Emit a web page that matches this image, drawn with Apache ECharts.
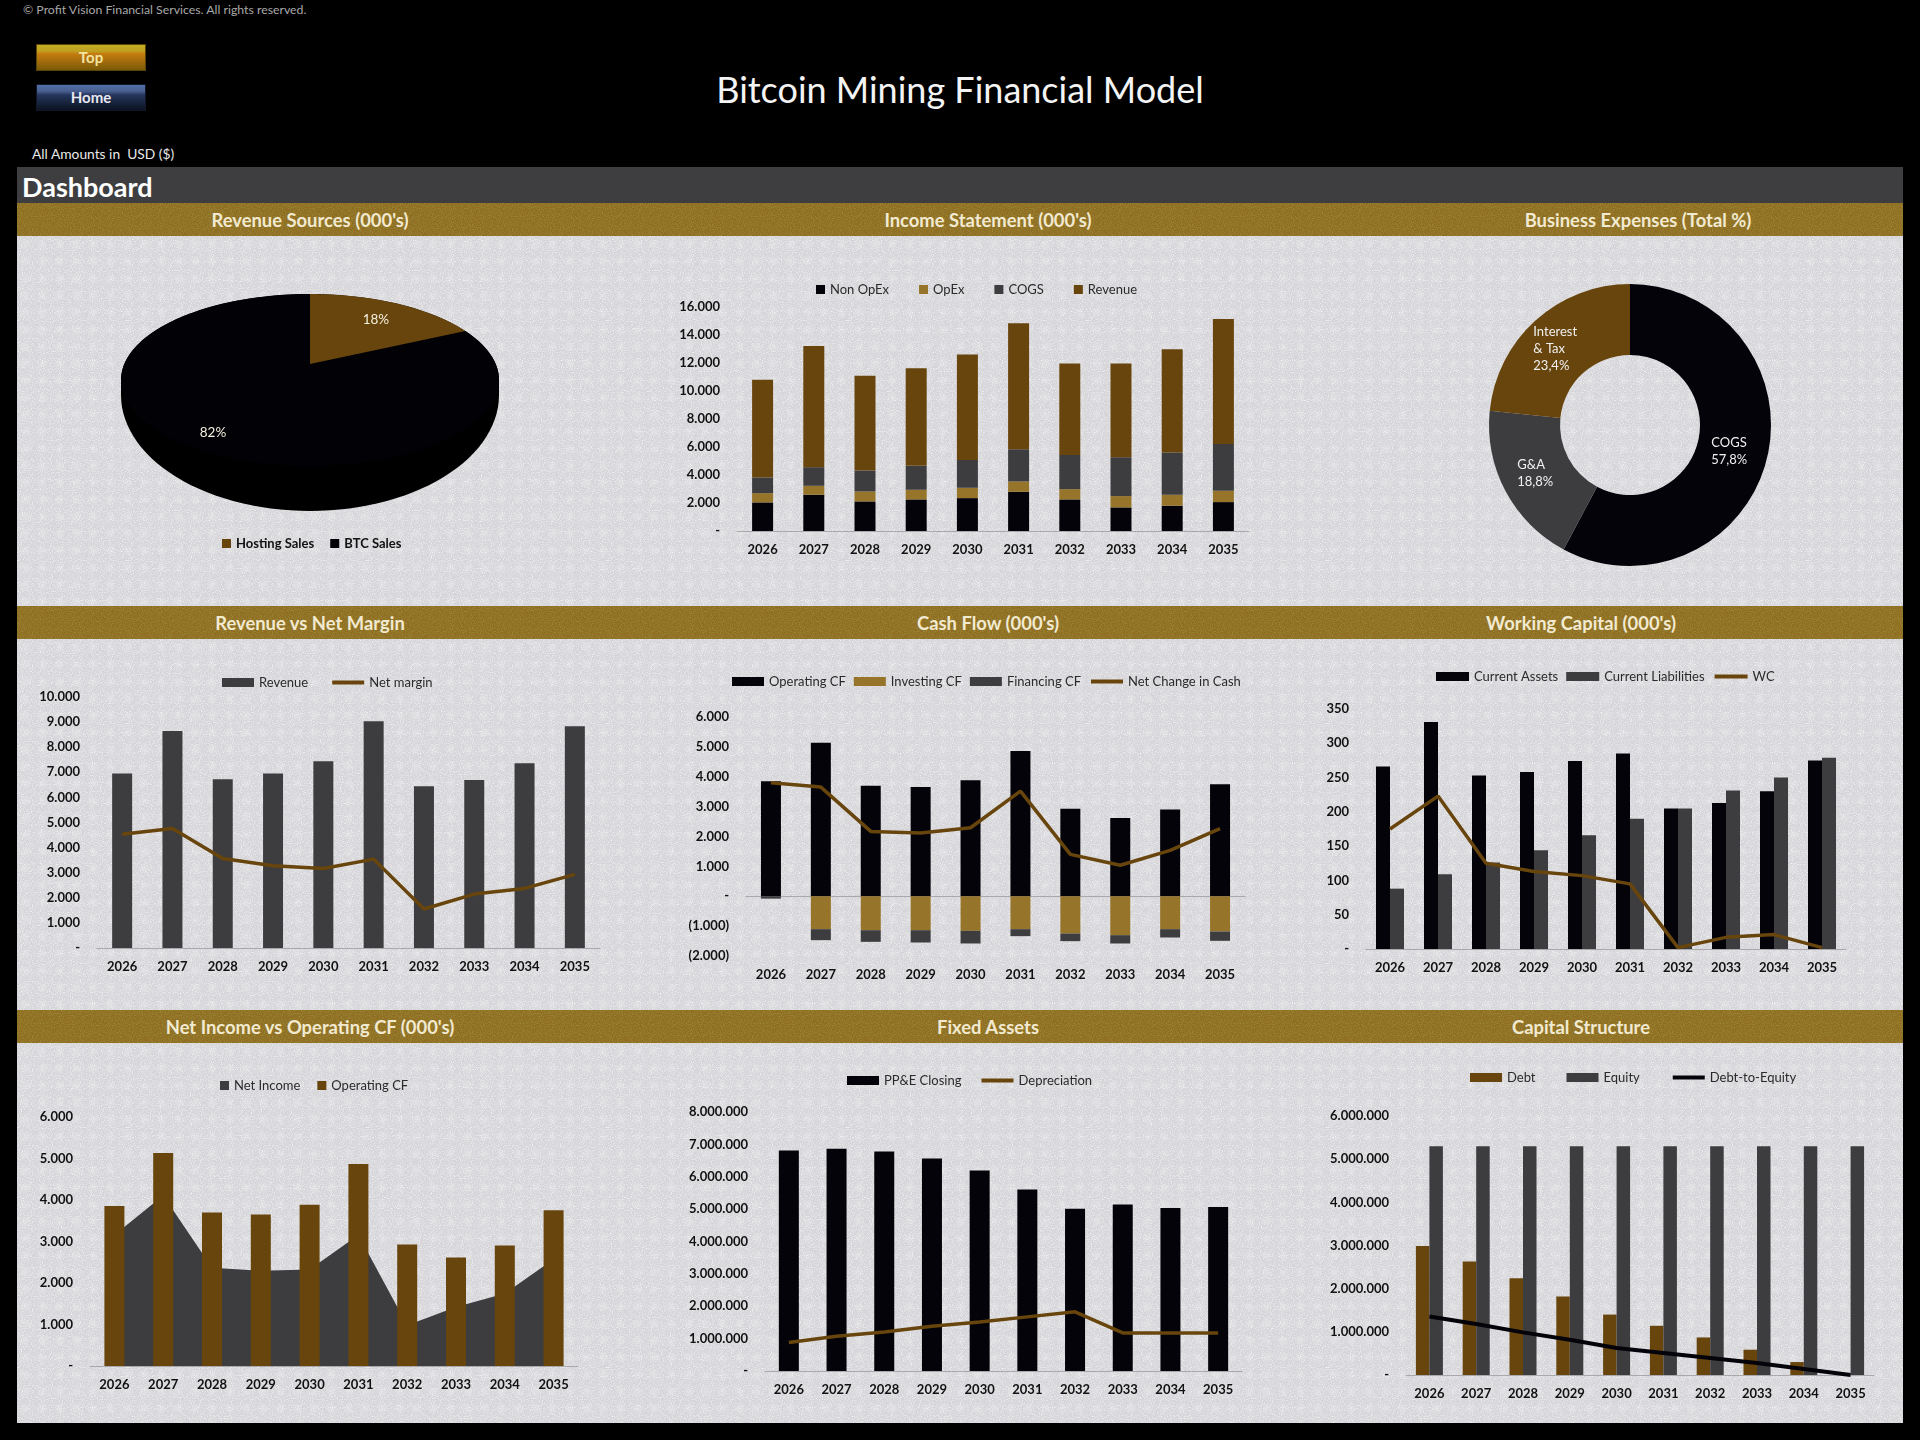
<!DOCTYPE html>
<html>
<head>
<meta charset="utf-8">
<title>Bitcoin Mining Financial Model</title>
<script src="https://cdn.jsdelivr.net/npm/echarts@6/dist/echarts.min.js"></script>
<style>
  html, body { margin: 0; padding: 0; background: #000; }
  #page { position: relative; width: 1920px; height: 1440px; background: #000; overflow: hidden; font-family: Lato, sans-serif; }
  .abs { position: absolute; white-space: nowrap; }
  .chart { position: absolute; left: 0; top: 0; width: 1920px; height: 1440px; }
  .panel { position: absolute; left: 17px; width: 1886px;
    background-color: #d6d6da;
    background-image:
      url("data:image/svg+xml,%3Csvg xmlns='http://www.w3.org/2000/svg' width='240' height='240'%3E%3Cfilter id='n'%3E%3CfeTurbulence type='fractalNoise' baseFrequency='0.9' numOctaves='1'/%3E%3CfeColorMatrix values='0 0 0 0 1 0 0 0 0 1 0 0 0 0 1 2.2 0 0 0 -1.05'/%3E%3C/filter%3E%3Crect width='240' height='240' filter='url(%23n)'/%3E%3C/svg%3E"),
      radial-gradient(circle, rgba(255,255,255,.2) 1px, rgba(255,255,255,0) 6px);
    background-size: 240px 240px, 17px 17px; }
  .band { position: absolute; left: 17px; width: 1886px; height: 33px;
    background-color: #8f6d22;
    background-image: url("data:image/svg+xml,%3Csvg xmlns='http://www.w3.org/2000/svg' width='240' height='240'%3E%3Cfilter id='n'%3E%3CfeTurbulence type='fractalNoise' baseFrequency='0.9' numOctaves='1'/%3E%3CfeColorMatrix values='0 0 0 0 0.35 0 0 0 0 0.3 0 0 0 0 0.05 2.2 0 0 0 -0.95'/%3E%3C/filter%3E%3Crect width='240' height='240' filter='url(%23n)'/%3E%3C/svg%3E"); }
  .bandTitle { position: absolute; transform: translateX(-50%); color: #f2ead0; font-size: 18.4px; font-weight: 700; line-height: 35px; white-space: nowrap; }
  .btn { position: absolute; left: 36px; width: 110px; height: 27px; text-align: center; font-size: 15px; font-weight: 700; line-height: 25px; box-sizing: border-box; }
  #top { top: 44px; color: #f4e3a0; background: linear-gradient(#c4ad24 0, #c0a020 25%, #c47c10 35%, #7a5a08 100%); border: 1px solid #5a4508; }
  #home { top: 84px; color: #e8e8f0; background: linear-gradient(#5070a8 0, #4a5f90 25%, #24365c 40%, #0c1220 100%); border: 1px solid #101828; }
</style>
</head>
<body>
<div id="page">
  <div class="abs" style="left:23px;top:2px;font-size:12.3px;color:#a8a8a8">© Profit Vision Financial Services. All rights reserved.</div>
  <div class="btn" id="top">Top</div>
  <div class="btn" id="home">Home</div>
  <div class="abs" style="left:0;width:1920px;top:67px;text-align:center;font-size:36px;color:#f4f4f4">Bitcoin Mining Financial Model</div>
  <div class="abs" style="left:32px;top:145px;font-size:13.8px;color:#e8e8e8">All Amounts in&nbsp; USD ($)</div>
  <div class="abs" style="left:17px;top:167px;width:1886px;height:36px;background:#3e3e40"></div>
  <div class="abs" style="left:22px;top:170px;font-size:27px;font-weight:700;color:#fff">Dashboard</div>
  <div id="bands"></div>
  <div class="chart" id="revenueSources"></div>
  <div class="chart" id="incomeStatement"></div>
  <div class="chart" id="businessExpenses"></div>
  <div class="chart" id="revenueMargin"></div>
  <div class="chart" id="cashFlow"></div>
  <div class="chart" id="workingCapital"></div>
  <div class="chart" id="netIncomeCf"></div>
  <div class="chart" id="fixedAssets"></div>
  <div class="chart" id="capitalStructure"></div>
</div>
<script>
const years = ['2026', '2027', '2028', '2029', '2030', '2031', '2032', '2033', '2034', '2035']

// band titles
const titlesRow1 = ["Revenue Sources (000's)", "Income Statement (000's)", 'Business Expenses (Total %)']
const titlesRow2 = ['Revenue vs Net Margin', "Cash Flow (000's)", "Working Capital (000's)"]
const titlesRow3 = ["Net Income vs Operating CF (000's)", 'Fixed Assets', 'Capital Structure']

// pie + donut
const revenueSourceNames = ['Hosting Sales', 'BTC Sales']
const revenueSourceShares = [18, 82]
const expenseNames = ['COGS', 'G&A', 'Interest\n& Tax']
const expenseShares = [57.8, 18.8, 23.4]

// income statement
const nonOpex = [2042, 2588, 2113, 2255, 2350, 2801, 2255, 1685, 1804, 2065]
const opex = [664, 640, 712, 689, 736, 736, 736, 808, 784, 807]
const cogs = [1116, 1330, 1495, 1709, 1994, 2303, 2445, 2777, 3014, 3348]
const revenueStacked = [6979, 8664, 6766, 6979, 7525, 8997, 6528, 6694, 7383, 8925]

// revenue vs net margin
const revenue = [6950, 8647, 6724, 6950, 7440, 9032, 6446, 6698, 7361, 8833]
const netMargin = [4536, 4761, 3568, 3276, 3170, 3541, 1552, 2149, 2374, 2931]

// cash flow
const operatingCf = [3853, 5134, 3697, 3653, 3886, 4866, 2929, 2617, 2906, 3753]
const investingCf = [0, -1102, -1136, -1136, -1158, -1102, -1247, -1303, -1102, -1180]
const financingCf = [-80, -368, -390, -412, -423, -234, -256, -278, -279, -312]
const netChangeCash = [3797, 3653, 2171, 2116, 2294, 3519, 1403, 1036, 1537, 2261]

// working capital
const currentAssets = [266, 331, 253, 258, 274, 285, 205, 213, 230, 275]
const currentLiabilities = [88, 109, 126, 144, 166, 190, 205, 231, 250, 279]
const workingCapital = [175, 223, 125, 113, 107, 95, 2, 17, 21, 2]

// net income
const netIncome = [3154, 4111, 2365, 2293, 2325, 3154, 981, 1424, 1746, 2574]

// fixed assets
const ppeClosing = [6811000, 6863000, 6780000, 6563000, 6192000, 5604000, 5015000, 5139000, 5036000, 5067000]
const depreciation = [877000, 1073000, 1207000, 1383000, 1517000, 1672000, 1827000, 1176000, 1176000, 1176000]

// capital structure
const debt = [2990000, 2630000, 2240000, 1820000, 1400000, 1140000, 870000, 586000, 300000, 0]
const equity = [5300000, 5300000, 5300000, 5300000, 5300000, 5300000, 5300000, 5300000, 5300000, 5300000]
const debtToEquity = [1357000, 1180000, 987000, 817000, 625000, 509000, 393000, 277000, 139000, 0]

const BLACK = '#030309'
const GREY = '#3d3d3f'
const BROWN = '#68450c'
const GOLD = '#96742a'
const FONT = 'Lato'

// header bands
const bandCenters = [310, 988, 1638]
const bandCentersLower = [310, 988, 1581]
const bands = document.getElementById('bands')
function addRow(top, bottom, titles, centers) {
  bands.insertAdjacentHTML('beforeend',
    `<div class="band" style="top:${top}px"></div><div class="panel" style="top:${top + 33}px;height:${bottom - top - 33}px"></div>`)
  titles.forEach((t, i) => {
    bands.insertAdjacentHTML('beforeend', `<div class="bandTitle" style="left:${centers[i]}px;top:${top}px">${t}</div>`)
  })
}
addRow(203, 606, titlesRow1, bandCenters)
addRow(606, 1010, titlesRow2, bandCentersLower)
addRow(1010, 1423, titlesRow3, bandCentersLower)

// 1.000 / - / (1.000)
function fmtTick(v) {
  if (v === 0) return '-'
  const s = String(Math.abs(v)).replace(/\B(?=(\d{3})+$)/g, '.')
  return v < 0 ? `(${s})` : s
}

const bar = (name, data, color, extra) => ({ type: 'bar', name, data, itemStyle: { color }, ...extra })
const line = (name, data, color, width) => ({
  type: 'line', name, data, symbol: 'none', z: 5,
  lineStyle: { color, width: width || 3.5 }, itemStyle: { color }
})

function legendEntry(s) {
  // line series: line only, the legend would add a circle otherwise
  if (s.type === 'line' && !s.areaStyle) {
    return { name: s.name, itemStyle: { opacity: 0 }, lineStyle: { width: 4, color: s.lineStyle.color } }
  }
  return { name: s.name, icon: 'rect' }
}

function buildOption({ box, max, min = 0, interval, series, legend, lowLabels }) {
  const [left, top, right, bottom] = box
  const xAxis = [{
    type: 'category',
    data: years,
    axisTick: { show: false },
    axisLine: { show: !lowLabels, onZero: !lowLabels, lineStyle: { color: '#a9a9ad', width: 1 } },
    axisLabel: { color: '#111', fontFamily: FONT, fontWeight: 'bold', fontSize: 13, margin: 12, interval: 0 }
  }]
  if (lowLabels) {
    // zero line for the charts whose labels stay at the bottom
    xAxis.push({
      type: 'category', data: years, position: 'bottom',
      axisTick: { show: false }, axisLabel: { show: false },
      axisLine: { onZero: true, lineStyle: { color: '#a9a9ad', width: 1 } }
    })
  }
  return {
    animation: false,
    grid: { left, top, width: right - left, height: bottom - top },
    legend: {
      left: legend.x,
      top: legend.y - 7,
      padding: 0,
      itemGap: legend.gap,
      itemWidth: legend.w || 32,
      itemHeight: legend.h || 9,
      data: series.map(legendEntry),
      selectedMode: false,
      textStyle: { color: '#2a2a2a', fontFamily: FONT, fontSize: 13 }
    },
    xAxis,
    yAxis: {
      type: 'value', min, max, interval,
      splitLine: { show: false },
      axisLine: { show: false },
      axisTick: { show: false },
      axisLabel: { color: '#111', fontFamily: FONT, fontWeight: 'bold', fontSize: 13, margin: 17, formatter: fmtTick }
    },
    series
  }
}

function render(id, option) {
  echarts.init(document.getElementById(id)).setOption(option)
}

// Income Statement
render('incomeStatement', buildOption({
  box: [737, 307, 1249, 531], max: 16000, interval: 2000,
  legend: { x: 816, y: 290, gap: 30, w: 9, h: 9 },
  series: [
    bar('Non OpEx', nonOpex, BLACK, { stack: 'is', barWidth: 21 }),
    bar('OpEx', opex, GOLD, { stack: 'is' }),
    bar('COGS', cogs, GREY, { stack: 'is' }),
    bar('Revenue', revenueStacked, BROWN, { stack: 'is' })
  ]
}))

// Revenue vs Net Margin
render('revenueMargin', buildOption({
  box: [97, 697, 600, 948], max: 10000, interval: 1000,
  legend: { x: 222, y: 683, gap: 22 },
  series: [
    bar('Revenue', revenue, GREY, { barWidth: 20 }),
    line('Net margin', netMargin, BROWN)
  ]
}))

// Cash Flow
render('cashFlow', buildOption({
  box: [746, 717, 1245, 956], min: -2000, max: 6000, interval: 1000, lowLabels: true,
  legend: { x: 732, y: 682, gap: 8 },
  series: [
    bar('Operating CF', operatingCf, BLACK, { stack: 'cf', barWidth: 20 }),
    bar('Investing CF', investingCf, GOLD, { stack: 'cf' }),
    bar('Financing CF', financingCf, GREY, { stack: 'cf' }),
    line('Net Change in Cash', netChangeCash, BROWN)
  ]
}))

// Working Capital
render('workingCapital', buildOption({
  box: [1366, 709, 1846, 949], max: 350, interval: 50,
  legend: { x: 1436, y: 677, gap: 8, w: 33 },
  series: [
    bar('Current Assets', currentAssets, BLACK, { barWidth: 14, barGap: 0 }),
    bar('Current Liabilities', currentLiabilities, GREY, { barWidth: 14 }),
    line('WC', workingCapital, BROWN)
  ]
}))

// Net Income vs Operating CF: area behind the bars
render('netIncomeCf', buildOption({
  box: [90, 1117, 578, 1366], max: 6000, interval: 1000,
  legend: { x: 220, y: 1086, gap: 17, w: 9, h: 9 },
  series: [
    { type: 'line', name: 'Net Income', data: netIncome, symbol: 'none', z: 1,
      lineStyle: { width: 0 }, areaStyle: { color: GREY, opacity: 1 }, itemStyle: { color: GREY } },
    bar('Operating CF', operatingCf, BROWN, { barWidth: 20, z: 3 })
  ]
}))

// Fixed Assets
render('fixedAssets', buildOption({
  box: [765, 1112, 1242, 1371], max: 8000000, interval: 1000000,
  legend: { x: 847, y: 1081, gap: 18 },
  series: [
    bar('PP&E Closing', ppeClosing, BLACK, { barWidth: 20 }),
    line('Depreciation', depreciation, BROWN)
  ]
}))

// Capital Structure
render('capitalStructure', buildOption({
  box: [1406, 1116, 1874, 1375], max: 6000000, interval: 1000000,
  legend: { x: 1470, y: 1078, gap: 31 },
  series: [
    bar('Debt', debt, BROWN, { barWidth: 13.5, barGap: 0 }),
    bar('Equity', equity, GREY, { barWidth: 13.5 }),
    line('Debt-to-Equity', debtToEquity, BLACK, 4)
  ]
}))

// Business Expenses donut
const expenseLabelOffsets = [[-6, 0], [1, -3], [-2, 4]]
render('businessExpenses', {
  animation: false,
  series: [{
    type: 'pie',
    center: [1630, 425],
    radius: [70, 141],
    startAngle: 90,
    silent: true,
    labelLine: { show: false },
    label: {
      position: 'inside',
      color: '#f0f0f0',
      fontFamily: FONT,
      fontSize: 13,
      lineHeight: 17,
      formatter: (p) => {
        const pct = p.value.toFixed(1).replace('.', ',') + '%'
        return p.name.split('\n').concat(pct).map((t) => `{l|${t}}`).join('\n')
      },
      rich: { l: { align: 'left', color: '#f0f0f0', fontFamily: FONT, fontSize: 13, lineHeight: 17 } }
    },
    data: expenseNames.map((name, i) => ({
      name, value: expenseShares[i],
      itemStyle: { color: [BLACK, GREY, BROWN][i] },
      label: { offset: expenseLabelOffsets[i] }
    }))
  }]
})

// Revenue Sources: tilted pie with a side wall, the slices come from the shares
const PIE = { cx: 310, apexY: 364, rimY: 380, a: 189, b: 86, tilt: 0.45, wallY: 395, wallB: 116 }
const pieLabelRadius = [[123, 52], [181, 81]]

// point where the ray from the apex hits the rim ellipse
function rimPoint(deg) {
  const t = deg * Math.PI / 180
  const dx = Math.sin(t)
  const dy = -PIE.tilt * Math.cos(t)
  const c = PIE.apexY - PIE.rimY
  const A = dx * dx / (PIE.a * PIE.a) + dy * dy / (PIE.b * PIE.b)
  const B = 2 * dy * c / (PIE.b * PIE.b)
  const C = c * c / (PIE.b * PIE.b) - 1
  const r = (-B + Math.sqrt(B * B - 4 * A * C)) / (2 * A)
  return [PIE.cx + r * dx, PIE.apexY + r * dy]
}

function pieSlice(index, color) {
  return {
    type: 'custom',
    name: revenueSourceNames[index],
    coordinateSystem: 'none',
    itemStyle: { color },
    silent: true,
    z: index === 0 ? 3 : 2,
    data: [[revenueSourceShares[index]]],
    renderItem: (params, api) => {
      const before = revenueSourceShares.slice(0, index).reduce((a, b) => a + b, 0)
      const from = before * 3.6
      const to = (before + api.value(0)) * 3.6
      const pts = [[PIE.cx, PIE.apexY]]
      for (let d = from; d < to; d += 2) pts.push(rimPoint(d))
      pts.push(rimPoint(to))
      const mid = (from + to) / 2 * Math.PI / 180
      const [radX, radY] = pieLabelRadius[index]
      const children = []
      if (index === 1) {
        // wall under the big slice, closed up to the widest line of the rim
        const wall = [[PIE.cx + PIE.a, PIE.rimY]]
        for (let d = 0; d <= 180; d += 3) {
          const t = d * Math.PI / 180
          wall.push([PIE.cx + PIE.a * Math.cos(t), PIE.wallY + PIE.wallB * Math.sin(t)])
        }
        wall.push([PIE.cx - PIE.a, PIE.rimY])
        children.push({ type: 'polygon', shape: { points: wall }, style: { fill: '#000' } })
        const rim = []
        for (let d = 0; d < 360; d += 3) {
          const t = d * Math.PI / 180
          rim.push([PIE.cx + PIE.a * Math.cos(t), PIE.rimY + PIE.b * Math.sin(t)])
        }
        children.push({ type: 'polygon', shape: { points: rim }, style: { fill: color } })
      }
      children.push({ type: 'polygon', shape: { points: pts }, style: { fill: color } })
      children.push({
        type: 'text',
        style: {
          x: PIE.cx + radX * Math.sin(mid),
          y: PIE.apexY - radY * Math.cos(mid),
          text: api.value(0) + '%',
          fill: '#f4f0e0', font: `13.5px ${FONT}`, textAlign: 'center', textVerticalAlign: 'middle'
        }
      })
      return { type: 'group', children }
    }
  }
}

render('revenueSources', {
  animation: false,
  legend: {
    left: 222, top: 537, padding: 0, itemGap: 16, itemWidth: 9, itemHeight: 9, icon: 'rect',
    data: revenueSourceNames, selectedMode: false,
    textStyle: { color: '#111', fontFamily: FONT, fontWeight: 'bold', fontSize: 13 }
  },
  series: [pieSlice(1, '#020206'), pieSlice(0, BROWN)]
})
</script>
</body>
</html>
